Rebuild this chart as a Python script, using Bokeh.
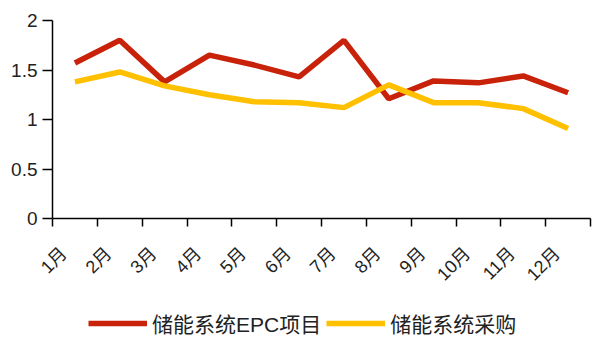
import math
from bokeh.plotting import figure
from bokeh.layouts import column
from bokeh.models import FixedTicker, Range1d, Legend, LegendItem
from bokeh.embed import file_html
from bokeh.resources import INLINE

months = ["1月", "2月", "3月", "4月", "5月", "6月", "7月", "8月", "9月", "10月", "11月", "12月"]
epc = [1.57, 1.80, 1.38, 1.65, 1.55, 1.43, 1.80, 1.21, 1.39, 1.37, 1.44, 1.27]
procure = [1.38, 1.48, 1.34, 1.25, 1.18, 1.17, 1.12, 1.35, 1.17, 1.17, 1.11, 0.91]
series_names = ["储能系统EPC项目", "储能系统采购"]
colors = ["#C8230A", "#FFC000"]
y_ticks = [0, 0.5, 1, 1.5, 2]

FONT = "Liberation Sans, Arial, Noto Sans CJK SC, sans-serif"

xs = [i + 0.5 for i in range(len(months))]
label_pos = [i + 0.25 for i in range(len(months))]

p = figure(width=592, height=298, output_backend="svg", toolbar_location=None,
           x_range=Range1d(0, len(months)), y_range=Range1d(0, 2),
           min_border_left=52, min_border_right=2, min_border_top=20, min_border_bottom=80)
p.outline_line_color = None
p.xgrid.visible = False
p.ygrid.visible = False

series = [epc, procure]
for vals, c in zip(series, colors):
    p.line(xs, vals, line_color=c, line_width=5.5)

# y axis
p.yaxis.ticker = FixedTicker(ticks=y_ticks)
p.yaxis.major_label_overrides = {0: "0", 0.5: "0.5", 1: "1", 1.5: "1.5", 2: "2"}
p.yaxis.major_label_text_font = FONT
p.yaxis.major_label_text_font_size = "19px"
p.yaxis.major_label_text_color = "#222222"
p.yaxis.major_tick_in = 0
p.yaxis.major_tick_out = 10
p.yaxis.minor_tick_line_color = None
p.yaxis.axis_line_width = 1.5
p.yaxis.major_tick_line_width = 1.5
p.yaxis.major_label_standoff = 5

# x axis: labels near centres, tick marks at boundaries (minor ticks)
p.xaxis.ticker = FixedTicker(ticks=label_pos, minor_ticks=list(range(len(months) + 1)))
p.xaxis.major_label_overrides = {x: m for x, m in zip(label_pos, months)}
p.xaxis.major_label_orientation = math.pi / 4
p.xaxis.major_label_text_font = FONT
p.xaxis.major_label_text_font_size = "18px"
p.xaxis.major_label_text_color = "#222222"
p.xaxis.major_tick_line_color = None
p.xaxis.minor_tick_in = 0
p.xaxis.minor_tick_out = 8
p.xaxis.minor_tick_line_width = 1.5
p.xaxis.axis_line_width = 1.5
p.xaxis.major_label_standoff = 24

# legend strip (same series drawn outside its visible range, only the legend shows)
lg = figure(width=592, height=40, output_backend="svg", toolbar_location=None,
            x_range=Range1d(0, len(months)), y_range=Range1d(-1, -0.5),
            min_border_left=0, min_border_right=0, min_border_top=0, min_border_bottom=0)
lg.axis.visible = False
lg.grid.visible = False
lg.outline_line_color = None
rs = [lg.line(xs, vals, line_color=c, line_width=5.5) for vals, c in zip(series, colors)]
legend = Legend(items=[LegendItem(label=n, renderers=[r]) for n, r in zip(series_names, rs)],
                orientation="horizontal", location=(36, 0),
                glyph_width=59, glyph_height=22, label_standoff=5, spacing=5,
                label_text_font=FONT, label_text_font_size="21px",
                label_text_color="#222222",
                border_line_color=None, background_fill_alpha=0,
                padding=0, margin=0)
lg.add_layout(legend, "center")

layout = column(p, lg, spacing=0)
open("out.html", "w").write(file_html(layout, INLINE))
